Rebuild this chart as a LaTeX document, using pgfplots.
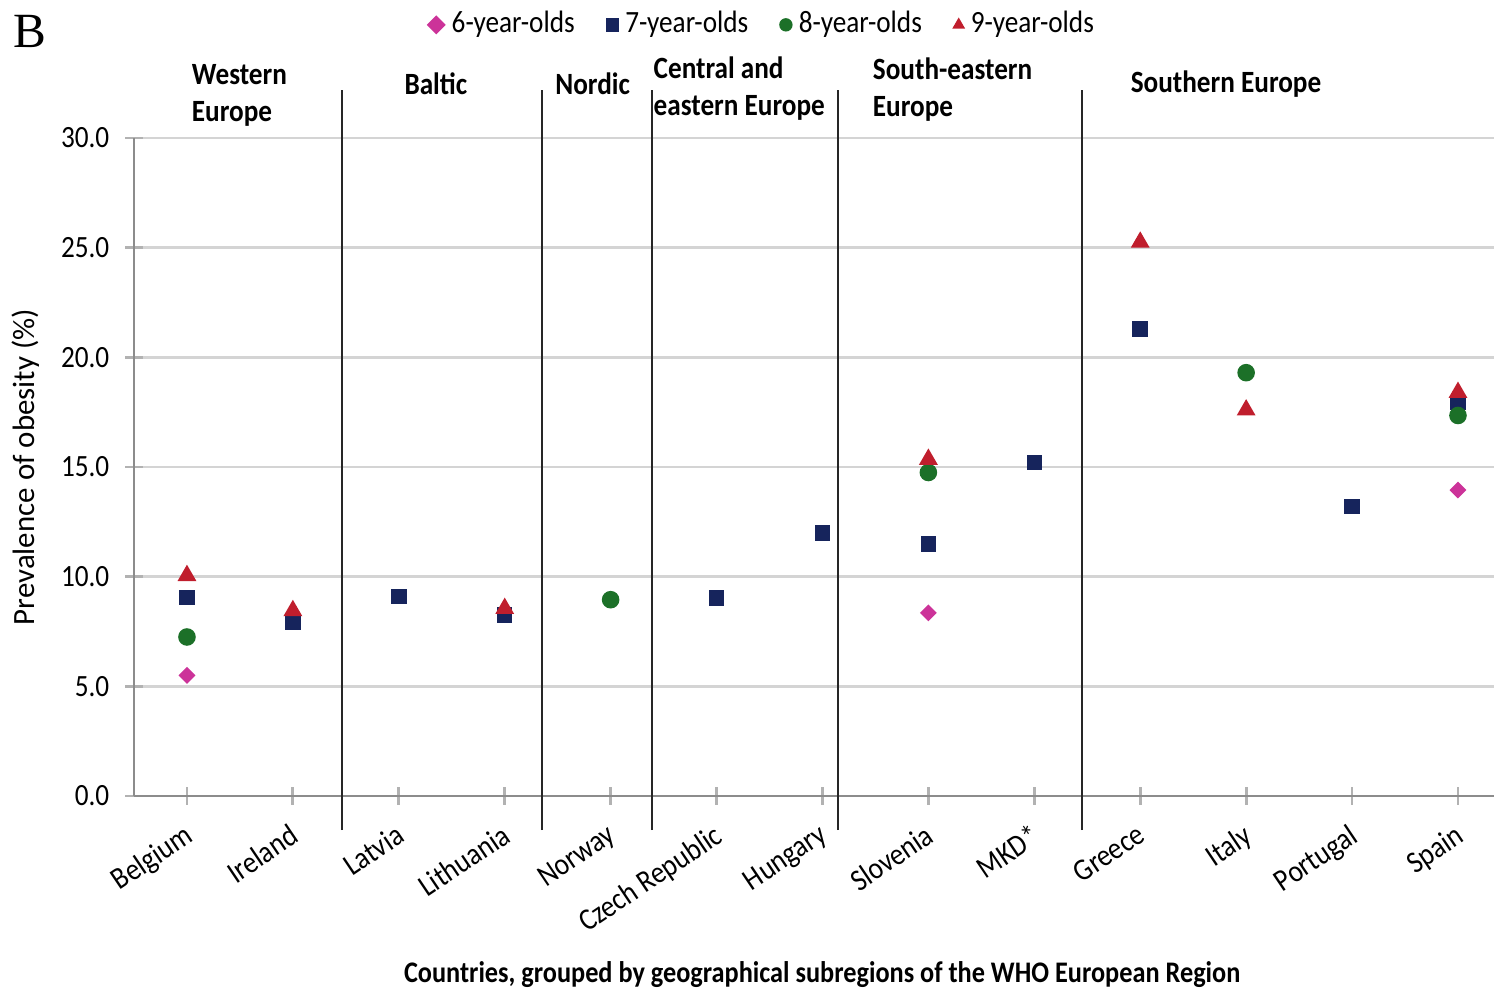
\documentclass[border=0pt]{standalone}
\usepackage{pgfplots}
\pgfplotsset{compat=1.18}
\usepackage{fontspec}
\setmainfont[FakeStretch=0.88]{Carlito}
\newfontfamily\cfull{Carlito}
\newfontfamily\serifB{Liberation Serif}

\definecolor{sixc}{RGB}{204,51,153}
\definecolor{sevc}{RGB}{22,36,92}
\definecolor{eigc}{RGB}{28,112,40}
\definecolor{ninc}{RGB}{192,30,45}
\newcommand\cf{\fontsize{8.8}{10.5}\selectfont}

\begin{document}
\begin{tikzpicture}
\useasboundingbox (-1.34cm,-1.96cm) rectangle (13.60cm,7.96cm);
\begin{axis}[
    at={(0,0)}, anchor=south west,
    scale only axis,
    width=13.60cm, height=6.58cm,
    xmin=-0.5, xmax=12.34,
    ymin=0, ymax=30,
    clip=false,
    axis lines=left,
    axis line style={-, draw=black!45, line width=0.8pt},
    xtick={0,...,12},
    xticklabels={Belgium, Ireland, Latvia, Lithuania, Norway, Czech Republic, Hungary, Slovenia, MKD*, Greece, Italy, Portugal, Spain},
    ytick={0,5,...,30},
    ymajorgrids,
    grid style={draw=black!17, line width=0.8pt},
    tick style={draw=black!30, line width=0.8pt},
    major tick length=5pt,
    tick align=center,
    ticklabel style={font=\cf},
    xticklabel style={yshift=-3.5pt, xshift=-1pt, rotate=34, anchor=north east, inner sep=1pt},
    yticklabel style={xshift=-1pt},
    /pgf/number format/.cd, fixed, fixed zerofill, precision=1, assume math mode=true,
    /pgfplots/.cd,
    ylabel={Prevalence of obesity (\%)},
    ylabel style={font=\cfull\cf, at={(axis description cs:-0.080,0.5)}, anchor=center},
    xlabel={Countries, grouped by geographical subregions of the WHO European Region},
    xlabel style={font=\bfseries\fontsize{8.5}{10}\selectfont, at={(axis description cs:0.506,-0.272)}, anchor=center},
    legend columns=4,
    legend style={at={(0.4635,1.172)}, anchor=center, draw=none, fill=none, font=\cf,
        /tikz/every even column/.append style={column sep=7pt}},
    legend image code/.code={\draw[mark size=1.7pt] plot coordinates {(0.08cm,0cm)};},
]

% 6-year-olds
\addplot[only marks, mark=square*, mark size=1.5pt, mark options={rotate=45}, color=sixc]
coordinates {(0,5.5) (7,8.35) (12,13.95)};
\addlegendentry{6-year-olds}

% 7-year-olds
\addplot[only marks, mark=square*, mark size=2pt, color=sevc]
coordinates {(0,9.05) (1,7.9) (2,9.1) (3,8.25) (5,9.03) (6,12.0) (7,11.5) (8,15.2) (9,21.3) (11,13.2) (12,17.95)};
\addlegendentry{7-year-olds}

% 8-year-olds
\addplot[only marks, mark=*, mark size=2.3pt, color=eigc]
coordinates {(0,7.25) (4,8.95) (7,14.75) (10,19.3) (12,17.35)};
\addlegendentry{8-year-olds}

% 9-year-olds
\addplot[only marks, mark=triangle*, mark size=2.7pt, color=ninc]
coordinates {(0,10.05) (1,8.45) (3,8.55) (7,15.35) (9,25.25) (10,17.6) (12,18.4)};
\addlegendentry{9-year-olds}

% subregion dividers
\pgfplotsinvokeforeach{1.464,3.352,4.391,6.147,8.451}{
    \draw[black!85, line width=0.6pt] (axis cs:#1,-1.55) -- (axis cs:#1,32.2);
}

\node[anchor=west, align=left, inner sep=0pt, font=\bfseries\cf] at (axis cs:0.04,31.96) {Western\\Europe};
\node[inner sep=0pt, font=\bfseries\cf] at (axis cs:2.35,32.47) {Baltic};
\node[inner sep=0pt, font=\bfseries\cf] at (axis cs:3.83,32.47) {Nordic};
\node[anchor=west, align=left, inner sep=0pt, font=\bfseries\cf] at (axis cs:4.40,32.26) {Central and\\eastern Europe};
\node[anchor=west, align=left, inner sep=0pt, font=\bfseries\cf] at (axis cs:6.47,32.19) {South-eastern\\Europe};
\node[inner sep=0pt, font=\bfseries\cf] at (axis cs:9.81,32.47) {Southern Europe};

\node[inner sep=0pt, font=\serifB\fontsize{14}{14}\selectfont] at (axis cs:-1.48,34.84) {B};
\end{axis}
\end{tikzpicture}
\end{document}
